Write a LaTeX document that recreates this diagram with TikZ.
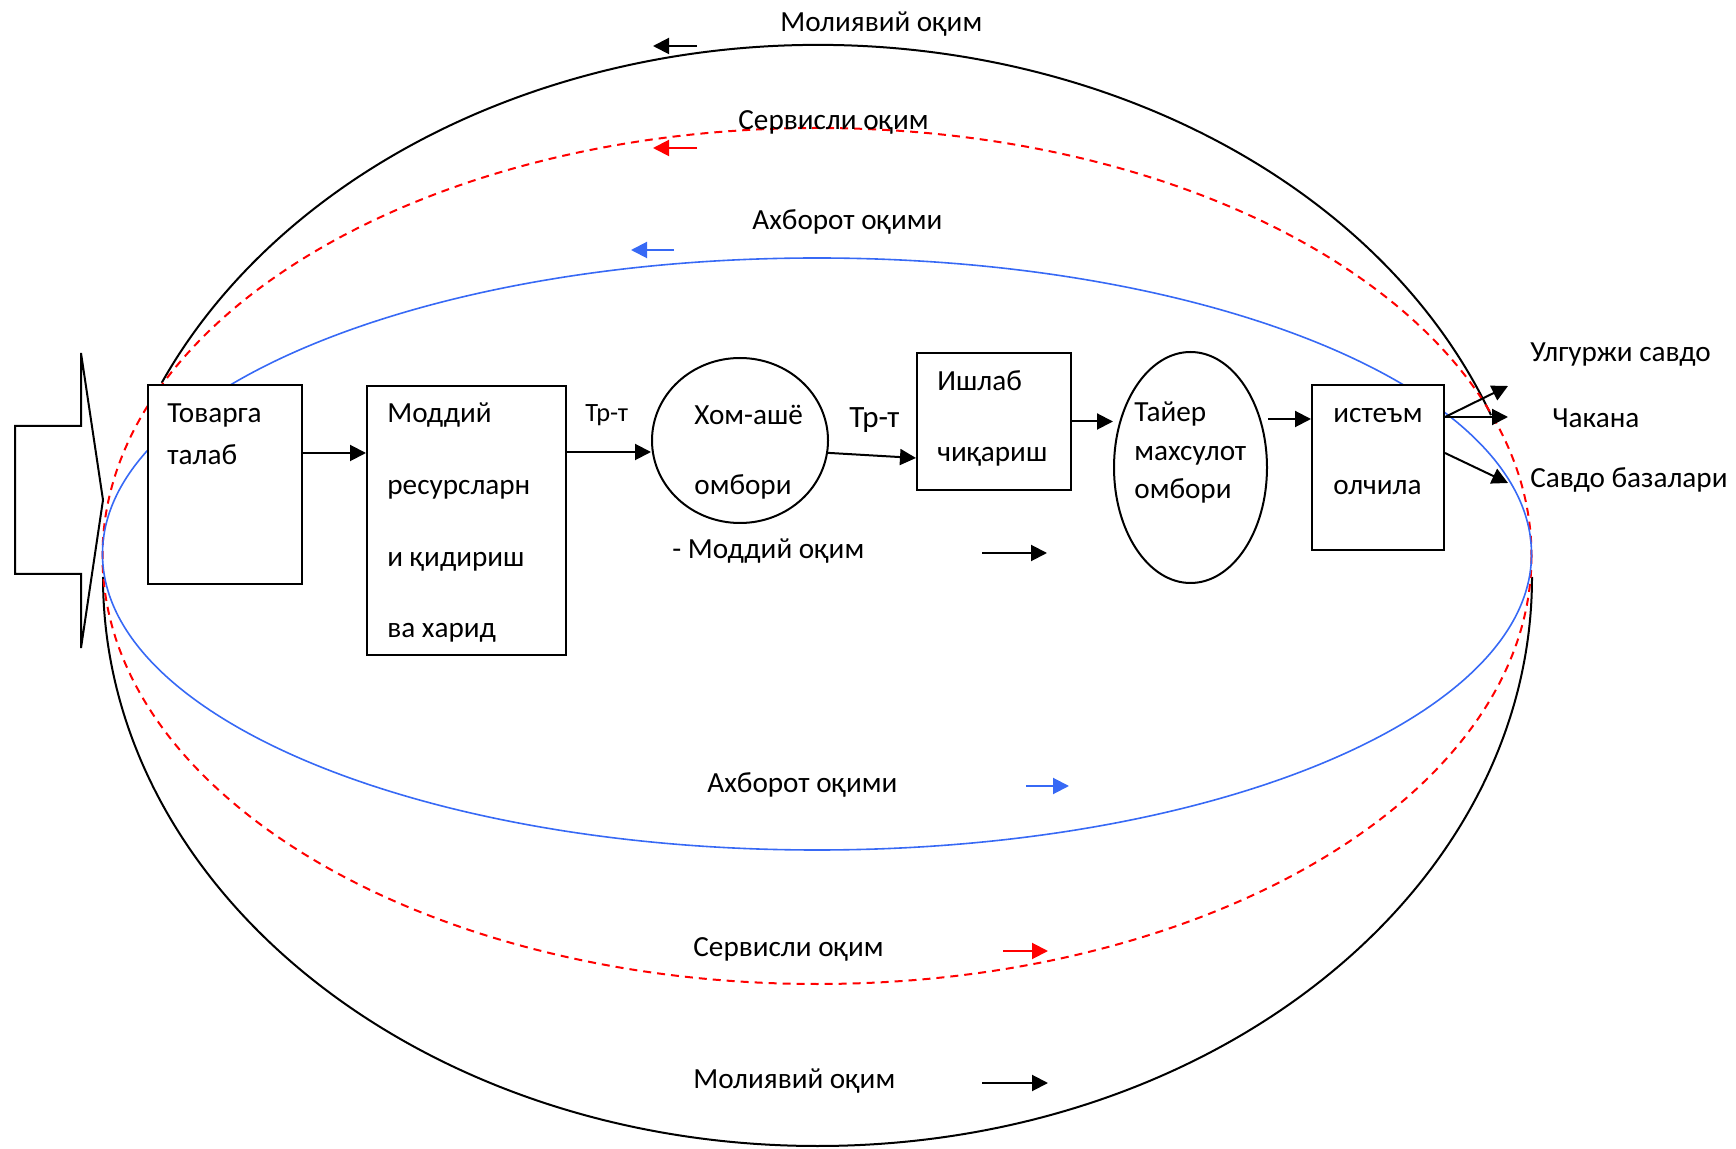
\documentclass[tikz,border=0pt]{standalone}
\usepackage{fontspec}
\setmainfont{Carlito}
\usepackage{tikz}
\usetikzlibrary{calc}
\usetikzlibrary{arrows.meta,shapes.geometric}
\usetikzlibrary{positioning}
\definecolor{infoblue}{RGB}{55,105,245}
\definecolor{servred}{rgb}{1.0,0.0,0.0}

\tikzset{
  box/.style={draw, line width=1pt, fill=white, inner sep=0pt, anchor=north west},
  store/.style={draw, ellipse, line width=1pt, fill=white, inner sep=0pt},
  txt/.style={inner sep=0pt, anchor=base west, font=\fontsize{14.6}{17}\selectfont},
  flow/.style={line width=1pt, -{Triangle[length=8pt,width=8pt]}},
}

\begin{document}
\begin{tikzpicture}[x=0.5pt,y=-0.5pt]
    \useasboundingbox (0,0) rectangle (1736,1149);
    % the three flows round the chain
    \draw[line width=1pt] (818,616) ++(-20.6:719 and 571) arc (-20.6:-155.9:719 and 571);
    \draw[line width=1pt] (817.5,577) ++(180:714.5 and 569) arc (180:0:714.5 and 569);
    \draw[servred, line width=1pt, dash pattern=on 4pt off 3pt] (817,556) ellipse [x radius=714.5, y radius=428];
    \draw[infoblue, line width=0.8pt] (817,554) ellipse [x radius=714.5, y radius=296];

    \draw[line width=1pt] (15,426) -- (81,426) -- (81,353) -- (103,500) -- (81,648) -- (81,574) -- (15,574) -- cycle;

    \node[box, minimum width=77pt, minimum height=99.5pt] (tovar) at (147,384) {};
    \node[box, minimum width=99.5pt, minimum height=134.5pt] (moddiy) at (366,385) {};
    \node[store, minimum width=88pt, minimum height=82.5pt] (xom) at (740,440.5) {};
    \node[box, minimum width=77pt, minimum height=68.5pt] (ishlab) at (916,352) {};
    \node[store, minimum width=76.5pt, minimum height=115.5pt] (tayyor) at (1190.5,467.5) {};
    \node[box, minimum width=66pt, minimum height=82.5pt] (isteum) at (1311,384) {};

    \node[txt] (tv1) at (167,423) {Товарга};
    \node[txt] (tv2) at (167,465) {талаб};
    \node[txt] (md1) at (387,423) {Моддий};
    \node[txt] (md2) at (387,495) {ресурсларн};
    \node[txt] (md3) at (387,567) {и қидириш};
    \node[txt] (md4) at (387,638) {ва харид};
    \node[txt, font=\fontsize{13.2}{15}\selectfont] (tr1) at (585,422) {Тр-т};
    \node[txt] (xm1) at (694,425) {Хом-ашё};
    \node[txt] (xm2) at (694,495) {омбори};
    \node[txt, font=\fontsize{15.5}{18}\selectfont] (tr2) at (849,428) {Тр-т};
    \node[txt] (is1) at (937,391) {Ишлаб};
    \node[txt] (is2) at (937,462) {чиқариш};
    \node[txt] (ty1) at (1134,422) {Тайер};
    \node[txt] (ty2) at (1134,461) {махсулот};
    \node[txt] (ty3) at (1134,499) {омбори};
    \node[txt] (ie1) at (1333,423) {истеъм};
    \node[txt] (ie2) at (1333,495) {олчила};
    \node[txt] (ulgT) at (1530,362) {Улгуржи савдо};
    \node[txt] (chakT) at (1552,428) {Чакана};
    \node[txt] (bazaT) at (1530,488) {Савдо базалари};

    % links of the chain
    \coordinate (a1) at ($(tovar.north east)+(0,69)$);
    \draw[flow] (a1) -- (a1 -| moddiy.west);
    \coordinate (a2) at ($(moddiy.north east)+(0,67)$);
    \draw[flow] (a2) -- (a2 -| xom.west);
    \draw[flow] (xom.-8) -- ($(ishlab.south west)+(0,-33)$);
    \draw[flow] (ishlab.east) -- (ishlab.east -| tayyor.west);
    \coordinate (a5) at ($(isteum.north west)+(0,35)$);
    \draw[flow] (a5 -| tayyor.east) -- (a5);
    \coordinate (b0) at ($(isteum.north east)+(0,33)$);
    \coordinate (b1) at ($(isteum.north east)+(0,69)$);
    \coordinate (ulg) at (1508,386);
    \coordinate (chak) at (1508,417);
    \coordinate (baza) at (1508,483);
    \draw[flow] (b0) -- (ulg);
    \draw[flow] (b0) -- (chak);
    \draw[flow] (b1) -- (baza);

    % flow names
    \node[txt] (molT) at (780,32) {Молиявий оқим};
    \node[txt] (servT) at (738,130) {Сервисли оқим};
    \node[txt] (axbT) at (752,230) {Ахборот оқими};
    \node[txt] (mdo) at (672,559) {- Моддий оқим};
    \node[txt] (axbB) at (707,792) {Ахборот оқими};
    \node[txt] (servB) at (693,956) {Сервисли оқим};
    \node[txt] (molB) at (693,1088) {Молиявий оқим};
    \draw[flow] (697,46) -- (653,46);
    \draw[flow, servred] (697,148) -- (653,148);
    \draw[flow, infoblue] (674,250) -- (631,250);
    \draw[flow] (982,553) -- (1047,553);
    \draw[flow, infoblue] (1026,786) -- (1069,786);
    \draw[flow, servred] (1003,951) -- (1048,951);
    \draw[flow] (982,1083) -- (1048,1083);
\end{tikzpicture}
\end{document}
